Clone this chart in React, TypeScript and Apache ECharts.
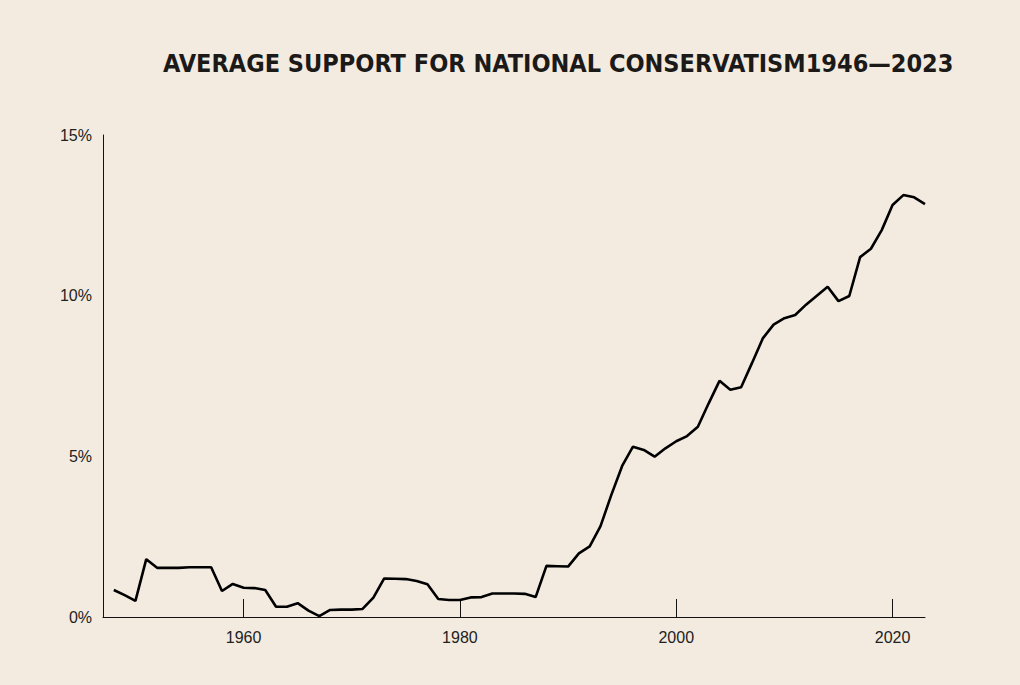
import React, { useEffect, useRef } from "react";
import * as echarts from "echarts";

const years: number[] = [
  1948, 1949, 1950, 1951, 1952, 1953, 1954, 1955, 1956, 1957, 1958, 1959,
  1960, 1961, 1962, 1963, 1964, 1965, 1966, 1967, 1968, 1969, 1970, 1971,
  1972, 1973, 1974, 1975, 1976, 1977, 1978, 1979, 1980, 1981, 1982, 1983,
  1984, 1985, 1986, 1987, 1988, 1989, 1990, 1991, 1992, 1993, 1994, 1995,
  1996, 1997, 1998, 1999, 2000, 2001, 2002, 2003, 2004, 2005, 2006, 2007,
  2008, 2009, 2010, 2011, 2012, 2013, 2014, 2015, 2016, 2017, 2018, 2019,
  2020, 2021, 2022, 2023,
];

const support: number[] = [
  0.84, 0.68, 0.5, 1.8, 1.53, 1.53, 1.53, 1.55, 1.55, 1.55, 0.81, 1.03,
  0.91, 0.9, 0.84, 0.32, 0.32, 0.43, 0.2, 0.03, 0.22, 0.23, 0.23, 0.25,
  0.6, 1.2, 1.19, 1.18, 1.12, 1.02, 0.56, 0.53, 0.53, 0.61, 0.62, 0.73,
  0.73, 0.73, 0.72, 0.62, 1.59, 1.58, 1.57, 1.98, 2.2, 2.83, 3.8, 4.7,
  5.3, 5.2, 4.99, 5.25, 5.47, 5.63, 5.92, 6.65, 7.35, 7.07, 7.15, 7.9,
  8.67, 9.1, 9.3, 9.4, 9.72, 10.0, 10.28, 9.83, 9.99, 11.2, 11.46, 12.04,
  12.82, 13.13, 13.06, 12.85,
];

const xTicks: number[] = [1960, 1980, 2000, 2020];
const titleText = "AVERAGE SUPPORT FOR NATIONAL CONSERVATISM1946\u20142023";

export default function App() {
  const ref = useRef<HTMLDivElement>(null);
  useEffect(() => {
    if (!ref.current) return;
    const chart = echarts.init(ref.current, null, { renderer: "svg" });
    chart.setOption({
      animation: false,
      backgroundColor: "#f3ebe0",
      title: {
        text: titleText,
        left: 158,
        top: 46,
        textStyle: {
          fontFamily: "DejaVu Sans Condensed",
          fontWeight: "bold",
          fontSize: 25,
          color: "#1c1a18",
        },
      },
      grid: { left: 103, right: 95, top: 135, bottom: 68 },
      xAxis: {
        type: "value",
        min: 1947,
        max: 2023,
        splitLine: { show: false },
        axisLine: { show: true, lineStyle: { color: "#111", width: 1 } },
        axisTick: {
          show: true,
          inside: true,
          length: 18,
          customValues: xTicks,
          lineStyle: { color: "#111", width: 1 },
        },
        axisLabel: {
          customValues: xTicks,
          formatter: (v: number) => String(v),
          fontFamily: "Liberation Sans",
          fontSize: 16,
          color: "#222",
          margin: 12,
        },
      },
      yAxis: {
        type: "value",
        min: 0,
        max: 15,
        interval: 5,
        splitLine: { show: false },
        axisLine: { show: true, lineStyle: { color: "#111", width: 1 } },
        axisTick: { show: false },
        axisLabel: {
          formatter: "{value}%",
          fontFamily: "Liberation Sans",
          fontSize: 16,
          color: "#222",
          margin: 11,
        },
      },
      series: [
        {
          type: "line",
          data: years.map((y, i) => [y, support[i]]),
          showSymbol: false,
          lineStyle: { color: "#000", width: 2.6 },
        },
      ],
    });
    return () => chart.dispose();
  }, []);
  return (
    <div
      ref={ref}
      style={{ position: "fixed", left: 0, top: 0, width: 1020, height: 685 }}
    />
  );
}
